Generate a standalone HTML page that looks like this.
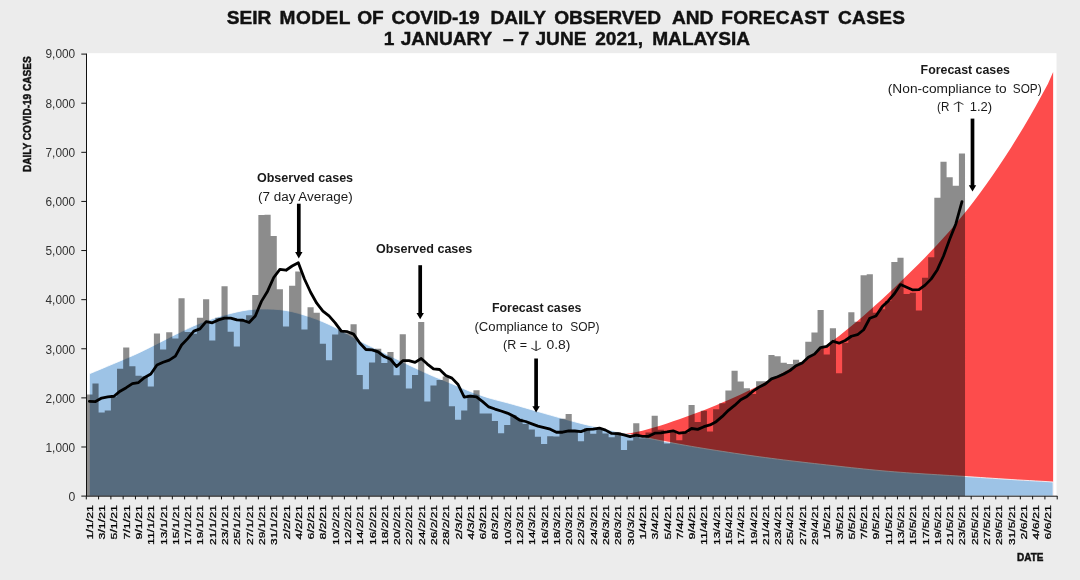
<!DOCTYPE html>
<html lang="en"><head><meta charset="utf-8"><title>SEIR MODEL OF COVID-19 DAILY OBSERVED AND FORECAST CASES</title>
<style>html,body{margin:0;padding:0;background:#ececec;}body{width:1080px;height:580px;overflow:hidden;}svg{display:block;}</style>
</head><body>
<svg width="1080" height="580" viewBox="0 0 1080 580">
<rect width="1080" height="580" fill="#ececec"/>
<rect x="86.3" y="53.2" width="970.2" height="443.2" fill="#ffffff"/>
<path d="M617.84 496.1 L617.84 431.91 L623.99 433.24 L630.13 433.35 L636.28 431.97 L642.42 430.63 L648.57 429.09 L654.71 427.34 L660.86 425.43 L667 423.43 L673.15 421.37 L679.29 419.25 L685.44 417.06 L691.58 414.82 L697.73 412.51 L703.87 410.14 L710.02 407.7 L716.16 405.19 L722.31 402.6 L728.45 399.95 L734.6 397.22 L740.74 394.41 L746.89 391.52 L753.03 388.55 L759.18 385.5 L765.32 382.35 L771.47 379.12 L777.61 375.78 L783.76 372.35 L789.9 368.82 L796.05 365.17 L802.19 361.4 L808.34 357.51 L814.48 353.49 L820.63 349.32 L826.77 345 L832.92 340.52 L839.06 335.89 L845.21 331.08 L851.35 326.12 L857.5 321 L863.64 315.72 L869.79 310.32 L875.93 304.79 L882.08 299.16 L888.22 293.44 L894.37 287.64 L900.51 281.77 L906.66 275.82 L912.8 269.79 L918.95 263.67 L925.09 257.44 L931.24 251.07 L937.38 244.54 L943.53 237.82 L949.67 230.89 L955.82 223.74 L961.96 216.34 L968.11 208.68 L974.25 200.76 L980.4 192.56 L986.54 184.09 L992.69 175.35 L998.83 166.32 L1004.98 157.02 L1011.12 147.43 L1017.27 137.56 L1023.41 127.4 L1029.56 116.94 L1035.7 106.18 L1041.85 95.12 L1047.99 83.73 L1053.14 72.02 L1053.14 496.1 Z" fill="#fd4c4c"/>
<path d="M89.37 496.1 L89.37 373.81 L95.52 371.24 L101.66 368.67 L107.81 366.1 L113.95 363.5 L120.1 360.92 L126.24 358.34 L132.39 355.71 L138.53 352.94 L144.68 349.99 L150.82 346.91 L156.97 343.77 L163.11 340.66 L169.26 337.57 L175.4 334.52 L181.55 331.54 L187.69 328.6 L193.84 325.79 L199.98 323.21 L206.13 320.91 L212.27 318.81 L218.42 316.84 L224.56 315.03 L230.71 313.41 L236.85 311.94 L243 310.67 L249.14 309.72 L255.29 309.18 L261.43 308.96 L267.58 308.99 L273.72 309.2 L279.87 309.65 L286.01 310.46 L292.16 311.71 L298.3 313.31 L304.45 315.13 L310.59 317.11 L316.74 319.31 L322.88 321.76 L329.03 324.48 L335.17 327.46 L341.32 330.6 L347.46 333.97 L353.61 337.51 L359.75 340.91 L365.9 344.03 L372.04 347.01 L378.19 349.99 L384.33 353.03 L390.48 356.07 L396.62 359.08 L402.77 362.06 L408.91 365.02 L415.06 367.92 L421.2 370.78 L427.35 373.58 L433.49 376.27 L439.64 378.75 L445.78 381.18 L451.93 383.74 L458.07 386.34 L464.22 388.97 L470.36 391.49 L476.51 393.78 L482.65 395.91 L488.8 397.88 L494.94 399.61 L501.09 401.19 L507.23 402.79 L513.38 404.49 L519.52 406.23 L525.67 407.99 L531.81 409.76 L537.96 411.54 L544.1 413.32 L550.25 415.07 L556.39 416.79 L562.54 418.5 L568.68 420.19 L574.83 421.83 L580.97 423.42 L587.12 424.92 L593.26 426.37 L599.41 427.77 L605.55 429.16 L611.7 430.54 L617.84 431.91 L623.99 433.24 L630.13 434.52 L636.28 435.79 L642.42 437.04 L648.57 438.28 L654.71 439.51 L660.86 440.71 L667 441.9 L673.15 443.06 L679.29 444.2 L685.44 445.32 L691.58 446.4 L697.73 447.45 L703.87 448.46 L710.02 449.45 L716.16 450.42 L722.31 451.37 L728.45 452.3 L734.6 453.22 L740.74 454.12 L746.89 455 L753.03 455.87 L759.18 456.72 L765.32 457.55 L771.47 458.36 L777.61 459.15 L783.76 459.92 L789.9 460.67 L796.05 461.4 L802.19 462.12 L808.34 462.83 L814.48 463.53 L820.63 464.23 L826.77 464.91 L832.92 465.6 L839.06 466.29 L845.21 466.97 L851.35 467.65 L857.5 468.31 L863.64 468.95 L869.79 469.58 L875.93 470.18 L882.08 470.76 L888.22 471.3 L894.37 471.81 L900.51 472.28 L906.66 472.73 L912.8 473.16 L918.95 473.57 L925.09 473.96 L931.24 474.35 L937.38 474.72 L943.53 475.1 L949.67 475.47 L955.82 475.86 L961.96 476.25 L968.11 476.66 L974.25 477.07 L980.4 477.49 L986.54 477.9 L992.69 478.31 L998.83 478.72 L1004.98 479.11 L1011.12 479.5 L1017.27 479.88 L1023.41 480.24 L1029.56 480.6 L1035.7 480.95 L1041.85 481.3 L1047.99 481.65 L1053.14 482.01 L1053.14 496.1 Z" fill="#9dc3e6" stroke="#ffffff" stroke-width="0.8"/>
<path d="M86.3 496.1 V394.54 H92.44 V383.39 H98.59 V412.41 H104.73 V410.6 H110.88 V396.55 H117.02 V368.75 H123.17 V347.44 H129.31 V366.3 H135.46 V375.73 H141.6 V376.61 H147.75 V386.48 H153.89 V333.59 H160.04 V349.5 H166.19 V332.22 H172.33 V338.4 H178.47 V298.23 H184.62 V332.12 H190.76 V333.74 H196.91 V317.78 H203.06 V299.26 H209.2 V340.42 H215.34 V317.78 H221.49 V286.15 H227.63 V331.77 H233.78 V346.41 H239.93 V320.04 H246.07 V315.37 H252.21 V295.04 H258.36 V214.94 H264.5 V214.79 H270.65 V235.91 H276.79 V289.15 H282.94 V326.42 H289.08 V285.71 H295.23 V271.61 H301.38 V329.56 H307.52 V307.17 H313.66 V312.87 H319.81 V343.86 H325.95 V360.36 H332.1 V334.62 H338.25 V329.91 H344.39 V333.15 H350.53 V324.26 H356.68 V375.09 H362.82 V389.23 H368.97 V362.52 H375.12 V348.86 H381.26 V362.91 H387.4 V351.91 H393.55 V375.24 H399.69 V334.18 H405.84 V388.45 H411.99 V374.89 H418.13 V322 H424.27 V401.61 H430.42 V385.45 H436.56 V380 H442.71 V376.42 H448.85 V406.32 H455 V419.73 H461.14 V410.4 H467.29 V394.78 H473.44 V390.31 H479.58 V413.59 H485.72 V413.45 H491.87 V421.01 H498.01 V433.24 H504.16 V424.99 H510.31 V415.21 H516.45 V418.75 H522.59 V423.91 H528.74 V429.6 H534.88 V436.77 H541.03 V443.89 H547.17 V436.23 H553.32 V436.53 H559.46 V418.7 H565.61 V414.04 H571.75 V430.93 H577.9 V441.29 H584.04 V428.13 H590.19 V433.83 H596.33 V429.31 H602.48 V433.48 H608.62 V437.22 H614.77 V432.16 H620.91 V449.89 H627.06 V440.46 H633.2 V423.32 H639.35 V438.25 H645.49 V432.55 H651.64 V415.66 H657.78 V429.85 H663.93 V443.55 H670.07 V432.26 H676.22 V440.16 H682.36 V432.99 H688.51 V405.05 H694.65 V421.94 H700.8 V410.7 H706.94 V431.42 H713.09 V409.32 H719.23 V403.33 H725.38 V390.61 H731.52 V370.82 H737.67 V381.62 H743.81 V388.3 H749.96 V394.05 H756.1 V381.13 H762.25 V381.18 H768.39 V354.91 H774.54 V356.28 H780.68 V362.67 H786.83 V363.99 H792.97 V359.77 H799.12 V361.88 H805.26 V341.79 H811.41 V332.46 H817.55 V310.07 H823.7 V354.61 H829.84 V328.24 H835.99 V373.32 H842.13 V342.87 H848.28 V312.23 H854.42 V321.71 H860.57 V275.2 H866.71 V274.17 H872.86 V312.77 H879 V309.13 H885.15 V300.98 H891.29 V262.09 H897.44 V257.67 H903.58 V294.11 H909.73 V292.78 H915.87 V310.46 H922.02 V277.75 H928.16 V257.17 H934.31 V197.75 H940.45 V161.85 H946.6 V177.22 H952.74 V185.72 H958.89 V153.5 H965.03 V496.1 Z" fill="#000000" fill-opacity="0.45"/>
<path d="M89.37 401.29 L95.52 401.58 L101.66 398.01 L107.81 396.98 L113.95 396.26 L120.1 391.19 L126.24 387.67 L132.39 383.64 L138.53 382.54 L144.68 377.43 L150.82 373.98 L156.97 364.99 L163.11 362.24 L169.26 360.06 L175.4 356.08 L181.55 345.01 L187.69 338.65 L193.84 331.11 L199.98 328.86 L206.13 321.68 L212.27 322.85 L218.42 319.9 L224.56 318.18 L230.71 318.13 L236.85 319.94 L243 320.26 L249.14 322.56 L255.29 316.08 L261.43 301.39 L267.58 291.19 L273.72 277.5 L279.87 269.32 L286.01 270.23 L292.16 265.99 L298.3 262.65 L304.45 279.02 L310.59 292.22 L316.74 303.21 L322.88 311.03 L329.03 315.88 L335.17 322.86 L341.32 331.19 L347.46 331.7 L353.61 334.15 L359.75 343.03 L365.9 349.52 L372.04 349.83 L378.19 351.86 L384.33 356.58 L390.48 359.26 L396.62 366.54 L402.77 360.69 L408.91 360.58 L415.06 362.35 L421.2 358.51 L427.35 364.04 L433.49 368.83 L439.64 369.51 L445.78 375.55 L451.93 378.1 L458.07 384.51 L464.22 397.13 L470.36 396.16 L476.51 396.85 L482.65 401.65 L488.8 406.94 L494.94 409.04 L501.09 410.97 L507.23 413.05 L513.38 415.97 L519.52 420.03 L525.67 421.51 L531.81 423.82 L537.96 426.07 L544.1 427.59 L550.25 429.2 L556.39 432.24 L562.54 432.23 L568.68 430.82 L574.83 431.01 L580.97 431.66 L587.12 429.41 L593.26 429.06 L599.41 428.03 L605.55 430.14 L611.7 433.46 L617.84 433.63 L623.99 434.86 L630.13 436.62 L636.28 435.12 L642.42 436.39 L648.57 436.26 L654.71 433.18 L660.86 432.85 L667 431.95 L673.15 430.78 L679.29 433.18 L685.44 432.43 L691.58 428.5 L697.73 429.4 L703.87 426.66 L710.02 424.93 L716.16 421.65 L722.31 416.39 L728.45 410.34 L734.6 405.45 L740.74 399.69 L746.89 396.49 L753.03 391.15 L759.18 387.12 L765.32 383.96 L771.47 378.86 L777.61 376.78 L783.76 374.07 L789.9 370.6 L796.05 365.7 L802.19 362.95 L808.34 357.33 L814.48 354.12 L820.63 347.52 L826.77 346.37 L832.92 341.26 L839.06 343.2 L845.21 340.48 L851.35 336.26 L857.5 334.72 L863.64 329.74 L869.79 318.25 L875.93 316.04 L882.08 306.87 L888.22 300.88 L894.37 293.72 L900.51 284.57 L906.66 287.27 L912.8 289.93 L918.95 289.6 L925.09 285.12 L931.24 278.86 L937.38 269.67 L943.53 255.98 L949.67 239.28 L955.82 223.99 L961.96 201.57" fill="none" stroke="#000000" stroke-width="2.8" stroke-linejoin="round" stroke-linecap="round"/>
<g stroke="#111111" stroke-width="1" fill="none">
<path d="M86.5 53.6 V496.2 H1057.4"/>
<path d="M81.3 496.1 H86.5M81.3 446.99 H86.5M81.3 397.88 H86.5M81.3 348.77 H86.5M81.3 299.66 H86.5M81.3 250.54 H86.5M81.3 201.43 H86.5M81.3 152.32 H86.5M81.3 103.21 H86.5M81.3 54.1 H86.5M86.3 496.1 V499.4M98.59 496.1 V499.4M110.88 496.1 V499.4M123.17 496.1 V499.4M135.46 496.1 V499.4M147.75 496.1 V499.4M160.04 496.1 V499.4M172.33 496.1 V499.4M184.62 496.1 V499.4M196.91 496.1 V499.4M209.2 496.1 V499.4M221.49 496.1 V499.4M233.78 496.1 V499.4M246.07 496.1 V499.4M258.36 496.1 V499.4M270.65 496.1 V499.4M282.94 496.1 V499.4M295.23 496.1 V499.4M307.52 496.1 V499.4M319.81 496.1 V499.4M332.1 496.1 V499.4M344.39 496.1 V499.4M356.68 496.1 V499.4M368.97 496.1 V499.4M381.26 496.1 V499.4M393.55 496.1 V499.4M405.84 496.1 V499.4M418.13 496.1 V499.4M430.42 496.1 V499.4M442.71 496.1 V499.4M455 496.1 V499.4M467.29 496.1 V499.4M479.58 496.1 V499.4M491.87 496.1 V499.4M504.16 496.1 V499.4M516.45 496.1 V499.4M528.74 496.1 V499.4M541.03 496.1 V499.4M553.32 496.1 V499.4M565.61 496.1 V499.4M577.9 496.1 V499.4M590.19 496.1 V499.4M602.48 496.1 V499.4M614.77 496.1 V499.4M627.06 496.1 V499.4M639.35 496.1 V499.4M651.64 496.1 V499.4M663.93 496.1 V499.4M676.22 496.1 V499.4M688.51 496.1 V499.4M700.8 496.1 V499.4M713.09 496.1 V499.4M725.38 496.1 V499.4M737.67 496.1 V499.4M749.96 496.1 V499.4M762.25 496.1 V499.4M774.54 496.1 V499.4M786.83 496.1 V499.4M799.12 496.1 V499.4M811.41 496.1 V499.4M823.7 496.1 V499.4M835.99 496.1 V499.4M848.28 496.1 V499.4M860.57 496.1 V499.4M872.86 496.1 V499.4M885.15 496.1 V499.4M897.44 496.1 V499.4M909.73 496.1 V499.4M922.02 496.1 V499.4M934.31 496.1 V499.4M946.6 496.1 V499.4M958.89 496.1 V499.4M971.18 496.1 V499.4M983.47 496.1 V499.4M995.76 496.1 V499.4M1008.05 496.1 V499.4M1020.34 496.1 V499.4M1032.63 496.1 V499.4M1044.92 496.1 V499.4M1057.21 496.1 V499.4"/>
</g>
<g font-family="'Liberation Sans', sans-serif" font-size="12" fill="#333333" text-anchor="end">
<text x="75.2" y="501.3" textLength="6.8" lengthAdjust="spacingAndGlyphs">0</text>
<text x="75.2" y="452.09" textLength="29.7" lengthAdjust="spacingAndGlyphs">1,000</text>
<text x="75.2" y="402.88" textLength="29.7" lengthAdjust="spacingAndGlyphs">2,000</text>
<text x="75.2" y="353.67" textLength="29.7" lengthAdjust="spacingAndGlyphs">3,000</text>
<text x="75.2" y="304.46" textLength="29.7" lengthAdjust="spacingAndGlyphs">4,000</text>
<text x="75.2" y="255.24" textLength="29.7" lengthAdjust="spacingAndGlyphs">5,000</text>
<text x="75.2" y="206.03" textLength="29.7" lengthAdjust="spacingAndGlyphs">6,000</text>
<text x="75.2" y="156.82" textLength="29.7" lengthAdjust="spacingAndGlyphs">7,000</text>
<text x="75.2" y="107.61" textLength="29.7" lengthAdjust="spacingAndGlyphs">8,000</text>
<text x="75.2" y="58.4" textLength="29.7" lengthAdjust="spacingAndGlyphs">9,000</text>
</g>
<g font-family="'Liberation Sans', sans-serif" font-size="9.4" fill="#000" stroke="#000" stroke-width="0.25" text-anchor="end">
<text transform="translate(92.87 505.1) rotate(-90)" textLength="34.4" lengthAdjust="spacingAndGlyphs">1/1/21</text>
<text transform="translate(105.16 505.1) rotate(-90)" textLength="34.4" lengthAdjust="spacingAndGlyphs">3/1/21</text>
<text transform="translate(117.45 505.1) rotate(-90)" textLength="34.4" lengthAdjust="spacingAndGlyphs">5/1/21</text>
<text transform="translate(129.74 505.1) rotate(-90)" textLength="34.4" lengthAdjust="spacingAndGlyphs">7/1/21</text>
<text transform="translate(142.03 505.1) rotate(-90)" textLength="34.4" lengthAdjust="spacingAndGlyphs">9/1/21</text>
<text transform="translate(154.32 505.1) rotate(-90)" textLength="39.8" lengthAdjust="spacingAndGlyphs">11/1/21</text>
<text transform="translate(166.61 505.1) rotate(-90)" textLength="39.8" lengthAdjust="spacingAndGlyphs">13/1/21</text>
<text transform="translate(178.9 505.1) rotate(-90)" textLength="39.8" lengthAdjust="spacingAndGlyphs">15/1/21</text>
<text transform="translate(191.19 505.1) rotate(-90)" textLength="39.8" lengthAdjust="spacingAndGlyphs">17/1/21</text>
<text transform="translate(203.48 505.1) rotate(-90)" textLength="39.8" lengthAdjust="spacingAndGlyphs">19/1/21</text>
<text transform="translate(215.77 505.1) rotate(-90)" textLength="39.8" lengthAdjust="spacingAndGlyphs">21/1/21</text>
<text transform="translate(228.06 505.1) rotate(-90)" textLength="39.8" lengthAdjust="spacingAndGlyphs">23/1/21</text>
<text transform="translate(240.35 505.1) rotate(-90)" textLength="39.8" lengthAdjust="spacingAndGlyphs">25/1/21</text>
<text transform="translate(252.64 505.1) rotate(-90)" textLength="39.8" lengthAdjust="spacingAndGlyphs">27/1/21</text>
<text transform="translate(264.93 505.1) rotate(-90)" textLength="39.8" lengthAdjust="spacingAndGlyphs">29/1/21</text>
<text transform="translate(277.22 505.1) rotate(-90)" textLength="39.8" lengthAdjust="spacingAndGlyphs">31/1/21</text>
<text transform="translate(289.51 505.1) rotate(-90)" textLength="34.4" lengthAdjust="spacingAndGlyphs">2/2/21</text>
<text transform="translate(301.8 505.1) rotate(-90)" textLength="34.4" lengthAdjust="spacingAndGlyphs">4/2/21</text>
<text transform="translate(314.09 505.1) rotate(-90)" textLength="34.4" lengthAdjust="spacingAndGlyphs">6/2/21</text>
<text transform="translate(326.38 505.1) rotate(-90)" textLength="34.4" lengthAdjust="spacingAndGlyphs">8/2/21</text>
<text transform="translate(338.67 505.1) rotate(-90)" textLength="39.8" lengthAdjust="spacingAndGlyphs">10/2/21</text>
<text transform="translate(350.96 505.1) rotate(-90)" textLength="39.8" lengthAdjust="spacingAndGlyphs">12/2/21</text>
<text transform="translate(363.25 505.1) rotate(-90)" textLength="39.8" lengthAdjust="spacingAndGlyphs">14/2/21</text>
<text transform="translate(375.54 505.1) rotate(-90)" textLength="39.8" lengthAdjust="spacingAndGlyphs">16/2/21</text>
<text transform="translate(387.83 505.1) rotate(-90)" textLength="39.8" lengthAdjust="spacingAndGlyphs">18/2/21</text>
<text transform="translate(400.12 505.1) rotate(-90)" textLength="39.8" lengthAdjust="spacingAndGlyphs">20/2/21</text>
<text transform="translate(412.41 505.1) rotate(-90)" textLength="39.8" lengthAdjust="spacingAndGlyphs">22/2/21</text>
<text transform="translate(424.7 505.1) rotate(-90)" textLength="39.8" lengthAdjust="spacingAndGlyphs">24/2/21</text>
<text transform="translate(436.99 505.1) rotate(-90)" textLength="39.8" lengthAdjust="spacingAndGlyphs">26/2/21</text>
<text transform="translate(449.28 505.1) rotate(-90)" textLength="39.8" lengthAdjust="spacingAndGlyphs">28/2/21</text>
<text transform="translate(461.57 505.1) rotate(-90)" textLength="34.4" lengthAdjust="spacingAndGlyphs">2/3/21</text>
<text transform="translate(473.86 505.1) rotate(-90)" textLength="34.4" lengthAdjust="spacingAndGlyphs">4/3/21</text>
<text transform="translate(486.15 505.1) rotate(-90)" textLength="34.4" lengthAdjust="spacingAndGlyphs">6/3/21</text>
<text transform="translate(498.44 505.1) rotate(-90)" textLength="34.4" lengthAdjust="spacingAndGlyphs">8/3/21</text>
<text transform="translate(510.73 505.1) rotate(-90)" textLength="39.8" lengthAdjust="spacingAndGlyphs">10/3/21</text>
<text transform="translate(523.02 505.1) rotate(-90)" textLength="39.8" lengthAdjust="spacingAndGlyphs">12/3/21</text>
<text transform="translate(535.31 505.1) rotate(-90)" textLength="39.8" lengthAdjust="spacingAndGlyphs">14/3/21</text>
<text transform="translate(547.6 505.1) rotate(-90)" textLength="39.8" lengthAdjust="spacingAndGlyphs">16/3/21</text>
<text transform="translate(559.89 505.1) rotate(-90)" textLength="39.8" lengthAdjust="spacingAndGlyphs">18/3/21</text>
<text transform="translate(572.18 505.1) rotate(-90)" textLength="39.8" lengthAdjust="spacingAndGlyphs">20/3/21</text>
<text transform="translate(584.47 505.1) rotate(-90)" textLength="39.8" lengthAdjust="spacingAndGlyphs">22/3/21</text>
<text transform="translate(596.76 505.1) rotate(-90)" textLength="39.8" lengthAdjust="spacingAndGlyphs">24/3/21</text>
<text transform="translate(609.05 505.1) rotate(-90)" textLength="39.8" lengthAdjust="spacingAndGlyphs">26/3/21</text>
<text transform="translate(621.34 505.1) rotate(-90)" textLength="39.8" lengthAdjust="spacingAndGlyphs">28/3/21</text>
<text transform="translate(633.63 505.1) rotate(-90)" textLength="39.8" lengthAdjust="spacingAndGlyphs">30/3/21</text>
<text transform="translate(645.92 505.1) rotate(-90)" textLength="34.4" lengthAdjust="spacingAndGlyphs">1/4/21</text>
<text transform="translate(658.21 505.1) rotate(-90)" textLength="34.4" lengthAdjust="spacingAndGlyphs">3/4/21</text>
<text transform="translate(670.5 505.1) rotate(-90)" textLength="34.4" lengthAdjust="spacingAndGlyphs">5/4/21</text>
<text transform="translate(682.79 505.1) rotate(-90)" textLength="34.4" lengthAdjust="spacingAndGlyphs">7/4/21</text>
<text transform="translate(695.08 505.1) rotate(-90)" textLength="34.4" lengthAdjust="spacingAndGlyphs">9/4/21</text>
<text transform="translate(707.37 505.1) rotate(-90)" textLength="39.8" lengthAdjust="spacingAndGlyphs">11/4/21</text>
<text transform="translate(719.66 505.1) rotate(-90)" textLength="39.8" lengthAdjust="spacingAndGlyphs">13/4/21</text>
<text transform="translate(731.95 505.1) rotate(-90)" textLength="39.8" lengthAdjust="spacingAndGlyphs">15/4/21</text>
<text transform="translate(744.24 505.1) rotate(-90)" textLength="39.8" lengthAdjust="spacingAndGlyphs">17/4/21</text>
<text transform="translate(756.53 505.1) rotate(-90)" textLength="39.8" lengthAdjust="spacingAndGlyphs">19/4/21</text>
<text transform="translate(768.82 505.1) rotate(-90)" textLength="39.8" lengthAdjust="spacingAndGlyphs">21/4/21</text>
<text transform="translate(781.11 505.1) rotate(-90)" textLength="39.8" lengthAdjust="spacingAndGlyphs">23/4/21</text>
<text transform="translate(793.4 505.1) rotate(-90)" textLength="39.8" lengthAdjust="spacingAndGlyphs">25/4/21</text>
<text transform="translate(805.69 505.1) rotate(-90)" textLength="39.8" lengthAdjust="spacingAndGlyphs">27/4/21</text>
<text transform="translate(817.98 505.1) rotate(-90)" textLength="39.8" lengthAdjust="spacingAndGlyphs">29/4/21</text>
<text transform="translate(830.27 505.1) rotate(-90)" textLength="34.4" lengthAdjust="spacingAndGlyphs">1/5/21</text>
<text transform="translate(842.56 505.1) rotate(-90)" textLength="34.4" lengthAdjust="spacingAndGlyphs">3/5/21</text>
<text transform="translate(854.85 505.1) rotate(-90)" textLength="34.4" lengthAdjust="spacingAndGlyphs">5/5/21</text>
<text transform="translate(867.14 505.1) rotate(-90)" textLength="34.4" lengthAdjust="spacingAndGlyphs">7/5/21</text>
<text transform="translate(879.43 505.1) rotate(-90)" textLength="34.4" lengthAdjust="spacingAndGlyphs">9/5/21</text>
<text transform="translate(891.72 505.1) rotate(-90)" textLength="39.8" lengthAdjust="spacingAndGlyphs">11/5/21</text>
<text transform="translate(904.01 505.1) rotate(-90)" textLength="39.8" lengthAdjust="spacingAndGlyphs">13/5/21</text>
<text transform="translate(916.3 505.1) rotate(-90)" textLength="39.8" lengthAdjust="spacingAndGlyphs">15/5/21</text>
<text transform="translate(928.59 505.1) rotate(-90)" textLength="39.8" lengthAdjust="spacingAndGlyphs">17/5/21</text>
<text transform="translate(940.88 505.1) rotate(-90)" textLength="39.8" lengthAdjust="spacingAndGlyphs">19/5/21</text>
<text transform="translate(953.17 505.1) rotate(-90)" textLength="39.8" lengthAdjust="spacingAndGlyphs">21/5/21</text>
<text transform="translate(965.46 505.1) rotate(-90)" textLength="39.8" lengthAdjust="spacingAndGlyphs">23/5/21</text>
<text transform="translate(977.75 505.1) rotate(-90)" textLength="39.8" lengthAdjust="spacingAndGlyphs">25/5/21</text>
<text transform="translate(990.04 505.1) rotate(-90)" textLength="39.8" lengthAdjust="spacingAndGlyphs">27/5/21</text>
<text transform="translate(1002.33 505.1) rotate(-90)" textLength="39.8" lengthAdjust="spacingAndGlyphs">29/5/21</text>
<text transform="translate(1014.62 505.1) rotate(-90)" textLength="39.8" lengthAdjust="spacingAndGlyphs">31/5/21</text>
<text transform="translate(1026.91 505.1) rotate(-90)" textLength="34.4" lengthAdjust="spacingAndGlyphs">2/6/21</text>
<text transform="translate(1039.2 505.1) rotate(-90)" textLength="34.4" lengthAdjust="spacingAndGlyphs">4/6/21</text>
<text transform="translate(1051.49 505.1) rotate(-90)" textLength="34.4" lengthAdjust="spacingAndGlyphs">6/6/21</text>
</g>
<g font-family="'Liberation Sans', sans-serif" font-weight="bold" fill="#111111" stroke="#111111" stroke-width="0.45">
<text y="24.2" font-size="19.1"><tspan x="226.7">SEIR </tspan><tspan x="279.5" textLength="70.6" lengthAdjust="spacing">MODEL</tspan> <tspan x="357.2">OF </tspan><tspan x="391.6">COVID-19 </tspan><tspan x="490.4">DAILY </tspan><tspan x="554.2">OBSERVED </tspan><tspan x="672">AND </tspan><tspan x="721.2" textLength="107.8" lengthAdjust="spacing">FORECAST</tspan> <tspan x="837.9" textLength="67.2" lengthAdjust="spacing">CASES</tspan></text>
<text y="45" font-size="19.1"><tspan x="383.8">1 </tspan><tspan x="400.7">JANUARY </tspan><tspan x="503">– </tspan><tspan x="518.5">7 </tspan><tspan x="535.5">JUNE </tspan><tspan x="595.2">2021, </tspan><tspan x="652.2">MALAYSIA</tspan></text>
<text transform="translate(30.6 172.1) rotate(-90)" font-size="10.8" textLength="115.8" lengthAdjust="spacingAndGlyphs">DAILY COVID-19 CASES</text>
<text x="1017.1" y="560.7" font-size="10.5" textLength="26.4" lengthAdjust="spacingAndGlyphs">DATE</text>
</g>
<g font-family="'Liberation Sans', sans-serif" fill="#1a1a1a">
<text x="256.9" y="182.3" font-size="12" font-weight="bold" textLength="96.2" lengthAdjust="spacingAndGlyphs">Observed cases</text>
<text x="258" y="201.1" font-size="12" textLength="94.7" lengthAdjust="spacingAndGlyphs">(7 day Average)</text>
<text x="376" y="252.9" font-size="12" font-weight="bold" textLength="96.3" lengthAdjust="spacingAndGlyphs">Observed cases</text>
<text x="492" y="312" font-size="12" font-weight="bold" textLength="89.4" lengthAdjust="spacingAndGlyphs">Forecast cases</text>
<text y="330.8" font-size="12"><tspan x="474.5" textLength="88.2" lengthAdjust="spacingAndGlyphs">(Compliance to</tspan> <tspan x="570.3" textLength="29.3" lengthAdjust="spacingAndGlyphs">SOP)</tspan></text>
<text y="349.2" font-size="12"><tspan x="503" textLength="24" lengthAdjust="spacingAndGlyphs">(R =</tspan> <tspan x="525.6" dy="1.3" font-family="'DejaVu Sans', sans-serif" font-size="14.2" font-weight="200" fill="#333" textLength="22" lengthAdjust="spacingAndGlyphs">↓</tspan> <tspan x="546.5" dy="-1.3" textLength="24" lengthAdjust="spacingAndGlyphs">0.8)</tspan></text>
<text x="920.6" y="73.7" font-size="12" font-weight="bold" textLength="89.4" lengthAdjust="spacingAndGlyphs">Forecast cases</text>
<text y="92.7" font-size="12"><tspan x="887.8" textLength="118.9" lengthAdjust="spacingAndGlyphs">(Non-compliance to</tspan> <tspan x="1012.8" textLength="28.8" lengthAdjust="spacingAndGlyphs">SOP)</tspan></text>
<text y="110.8" font-size="12"><tspan x="937" textLength="12.3" lengthAdjust="spacingAndGlyphs">(R</tspan> <tspan x="947.9" dy="0.7" font-family="'DejaVu Sans', sans-serif" font-size="14.2" font-weight="200" fill="#333" textLength="22" lengthAdjust="spacingAndGlyphs">↑</tspan> <tspan x="969.7" dy="-0.7" textLength="22.4" lengthAdjust="spacingAndGlyphs">1.2)</tspan></text>
</g>
<path d="M298.8 203.7 V254.4" stroke="#000" stroke-width="3.7" fill="none"/>
<path d="M295.1 252.1 L302.5 252.1 L298.8 258.4 Z" fill="#000"/>
<path d="M420.2 265.2 V315.3" stroke="#000" stroke-width="3.7" fill="none"/>
<path d="M416.5 313 L423.9 313 L420.2 319.3 Z" fill="#000"/>
<path d="M536.1 358.5 V408.6" stroke="#000" stroke-width="3.7" fill="none"/>
<path d="M532.4 406.3 L539.8 406.3 L536.1 412.6 Z" fill="#000"/>
<path d="M972.5 118.6 V187.5" stroke="#000" stroke-width="3.7" fill="none"/>
<path d="M968.8 185.2 L976.2 185.2 L972.5 191.5 Z" fill="#000"/>
</svg>
</body></html>
